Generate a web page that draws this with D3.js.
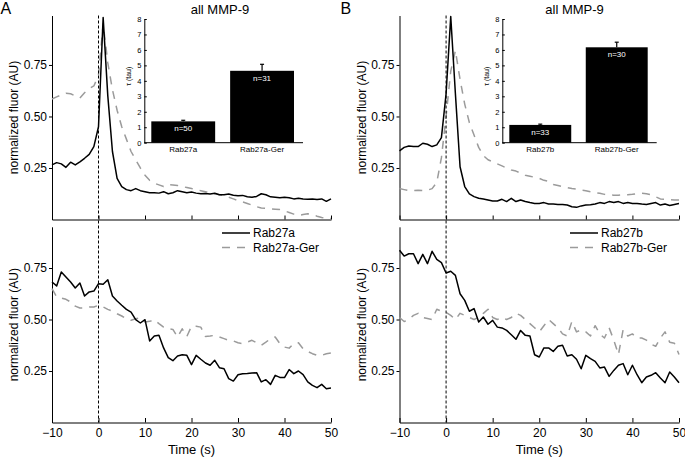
<!DOCTYPE html>
<html><head><meta charset="utf-8">
<script src="https://cdn.jsdelivr.net/npm/d3@7"></script>
<style>
body{margin:0;background:#fff}
svg{display:block}
text{font-family:"Liberation Sans",Arial,Helvetica,sans-serif}
</style>
</head><body>
<svg id="c" width="685" height="460"></svg>
<script>
// ---------- DATA ----------
const time = [-10,-9,-8,-7,-6,-5,-4,-3,-2,-1,0,1,2,3,4,5,6,7,8,9,10,11,12,13,14,15,16,17,18,19,20,
  21,22,23,24,25,26,27,28,29,30,31,32,33,34,35,36,37,38,39,40,41,42,43,44,45,46,47,48,49,50];
const xTicks = [-10,0,10,20,30,40,50];
const yTicks = [0.25,0.50,0.75];
const insetTicks = [0,1,2,3,4,5,6,7,8];

// Panel A, top (all MMP-9)
const aTopRab27a = [0.265,0.276,0.27,0.253,0.278,0.265,0.28,0.297,0.316,0.354,
  0.45,0.98,0.6,0.33,0.2,0.16,0.145,0.14,0.15,0.14,
  0.135,0.13,0.13,0.128,0.135,0.125,0.13,0.14,0.135,0.13,
  0.133,0.128,0.125,0.126,0.124,0.127,0.12,0.12,0.124,0.118,
  0.115,0.117,0.11,0.108,0.112,0.125,0.12,0.11,0.108,0.105,
  0.108,0.106,0.1,0.103,0.1,0.098,0.1,0.097,0.1,0.088,0.1];
const aTopRab27aGer = [0.585,0.595,0.605,0.613,0.61,0.6,0.59,0.615,0.635,0.648,
  0.7,0.95,0.76,0.63,0.53,0.45,0.39,0.33,0.29,0.25,
  0.215,0.19,0.176,0.168,0.16,0.17,0.168,0.165,0.16,0.155,
  0.15,0.145,0.14,0.135,0.13,0.125,0.12,0.115,0.108,0.1,
  0.092,0.085,0.078,0.07,0.062,0.056,0.054,0.052,0.05,0.048,
  0.042,0.034,0.026,0.02,0.024,0.028,0.025,0.016,0.01,0.006,0.005];
// Panel A, bottom
const aBotRab27a = [0.682,0.663,0.731,0.706,0.682,0.653,0.677,0.614,0.634,0.638,
  0.674,0.671,0.693,0.614,0.59,0.569,0.549,0.536,0.499,0.483,
  0.499,0.396,0.42,0.423,0.362,0.315,0.3,0.323,0.329,0.326,
  0.281,0.326,0.307,0.289,0.278,0.302,0.266,0.261,0.213,0.201,
  0.232,0.237,0.238,0.24,0.242,0.197,0.208,0.185,0.229,0.219,
  0.218,0.257,0.237,0.25,0.232,0.197,0.18,0.169,0.185,0.164,0.167];
const aBotRab27aGer = [0.65,0.61,0.604,0.598,0.585,0.565,0.556,0.556,0.561,0.561,
  0.569,0.561,0.549,0.54,0.528,0.517,0.504,0.496,0.504,0.507,
  0.488,0.491,0.499,0.48,0.463,0.455,0.452,0.415,0.455,0.418,
  0.467,0.467,0.463,0.418,0.42,0.423,0.415,0.407,0.399,0.396,
  0.387,0.383,0.39,0.399,0.387,0.375,0.39,0.407,0.415,0.383,
  0.366,0.361,0.383,0.387,0.358,0.345,0.334,0.326,0.326,0.334,0.337];
// Panel B, top
const bTopRab27b = [0.333,0.35,0.357,0.354,0.354,0.37,0.365,0.354,0.362,0.397,
  0.61,0.985,0.61,0.256,0.16,0.124,0.111,0.103,0.1,0.095,
  0.09,0.09,0.098,0.087,0.103,0.087,0.095,0.087,0.082,0.078,
  0.078,0.082,0.075,0.075,0.073,0.073,0.07,0.062,0.059,0.066,
  0.07,0.072,0.075,0.082,0.078,0.087,0.082,0.087,0.078,0.082,
  0.078,0.078,0.075,0.073,0.078,0.082,0.07,0.075,0.068,0.073,0.078];
const bTopRab27bGer = [0.15,0.145,0.14,0.14,0.142,0.14,0.142,0.15,0.18,0.3,
  0.5,0.72,0.82,0.68,0.56,0.47,0.41,0.35,0.31,0.29,
  0.28,0.27,0.26,0.25,0.24,0.235,0.225,0.215,0.21,0.205,
  0.2,0.19,0.185,0.17,0.165,0.16,0.155,0.15,0.148,0.143,
  0.14,0.135,0.13,0.127,0.122,0.12,0.118,0.118,0.12,0.12,
  0.122,0.125,0.127,0.125,0.12,0.11,0.1,0.098,0.097,0.095,0.095];
// Panel B, bottom
const bBotRab27b = [0.836,0.808,0.819,0.819,0.771,0.816,0.771,0.831,0.792,0.776,
  0.726,0.734,0.714,0.625,0.593,0.54,0.553,0.488,0.512,0.477,
  0.496,0.463,0.459,0.447,0.426,0.404,0.447,0.423,0.42,0.329,
  0.318,0.362,0.362,0.345,0.37,0.375,0.323,0.329,0.307,0.261,
  0.326,0.31,0.297,0.265,0.269,0.224,0.253,0.278,0.286,0.232,
  0.278,0.232,0.193,0.221,0.229,0.242,0.216,0.193,0.245,0.221,0.193];
const bBotRab27bGer = [0.51,0.49,0.5,0.52,0.53,0.51,0.505,0.5,0.55,0.54,
  0.535,0.52,0.5,0.53,0.52,0.51,0.5,0.51,0.53,0.55,
  0.51,0.5,0.51,0.5,0.51,0.53,0.52,0.5,0.48,0.46,
  0.44,0.47,0.5,0.48,0.46,0.43,0.42,0.49,0.44,0.45,
  0.44,0.42,0.47,0.43,0.41,0.46,0.4,0.33,0.45,0.42,
  0.43,0.41,0.41,0.4,0.38,0.37,0.41,0.44,0.39,0.385,0.33];

// Insets: tau
const insetCatsA = ["Rab27a","Rab27a-Ger"];
const tauA = [1.38, 4.65];
const tauErrA = [0.07, 0.42];
const nA = [50, 31];
const insetCatsB = ["Rab27b","Rab27b-Ger"];
const tauB = [1.15, 6.17];
const tauErrB = [0.05, 0.33];
const nB = [33, 30];

const legendA = ["Rab27a","Rab27a-Ger"];
const legendB = ["Rab27b","Rab27b-Ger"];

// ---------- DRAW ----------
const svg = d3.select("#c");
const BLACK = "#000", GRAY = "#9b9b9b";
const DASH = "8,7";

function lineSeries(g, x, y, vals, color, dash){
  const line = d3.line().x((d,i)=>x(time[i])).y(d=>y(d));
  g.append("path").datum(vals).attr("d", line)
    .attr("fill","none").attr("stroke",color).attr("stroke-width",1.5)
    .attr("stroke-linejoin","round")
    .attr("stroke-dasharray", dash || null);
}

function styleAxis(sel, fs){
  sel.selectAll("path.domain").attr("stroke","#000").attr("stroke-width",1);
  sel.selectAll(".tick line").attr("stroke","#000").attr("stroke-width",1);
  sel.selectAll(".tick text").attr("font-size",fs).attr("fill","#000")
    .attr("font-family",'"Liberation Sans",Arial,sans-serif');
}

function panel(o){
  const g = svg.append("g");
  const x = d3.scaleLinear().domain([-10,50]).range([o.left, o.right]);
  const yT = d3.scaleLinear().domain([0,0.99]).range([219.5, 15.5]);
  const yB = d3.scaleLinear().domain([0,0.95]).range([422.5, 226.8]);

  // panel letter
  g.append("text").attr("x", o.letterX).attr("y", 14).attr("font-size",16).text(o.letter);

  // top plot axes
  const yaT = g.append("g").attr("transform",`translate(${o.left},0)`)
    .call(d3.axisLeft(yT).tickValues(yTicks).tickFormat(d3.format(".2f")).tickSize(3).tickSizeOuter(0).tickPadding(2));
  styleAxis(yaT, 12);
  const xaT = g.append("g").attr("transform",`translate(0,${yT(0)})`)
    .call(d3.axisBottom(x).tickValues(xTicks).tickFormat("").tickSize(-4).tickSizeOuter(0));
  styleAxis(xaT, 12);

  // bottom plot axes
  const yaB = g.append("g").attr("transform",`translate(${o.left},0)`)
    .call(d3.axisLeft(yB).tickValues(yTicks).tickFormat(d3.format(".2f")).tickSize(3).tickSizeOuter(0).tickPadding(2));
  styleAxis(yaB, 12);
  const xaB = g.append("g").attr("transform",`translate(0,${yB(0)})`)
    .call(d3.axisBottom(x).tickValues(xTicks).tickFormat(d3.format("d")).tickSize(-4.5).tickSizeOuter(0).tickPadding(6));
  styleAxis(xaB, 12);

  // axis titles
  [yT, yB].forEach(y=>{
    const cy = (y.range()[0] + y.range()[1]) / 2;
    g.append("text").attr("transform",`translate(${o.left-34},${cy}) rotate(-90)`)
      .attr("text-anchor","middle").attr("font-size",12).text("normalized fluor (AU)");
  });
  g.append("text").attr("x",(o.left+o.right)/2).attr("y",454).attr("text-anchor","middle")
    .attr("font-size",13).text("Time (s)");

  // series
  lineSeries(g, x, yT, o.topGer, GRAY, DASH);
  lineSeries(g, x, yT, o.top, BLACK);
  lineSeries(g, x, yB, o.botGer, GRAY, DASH);
  lineSeries(g, x, yB, o.bot, BLACK);

  // vertical dashed line at t = 0
  g.append("line").attr("x1",x(0)).attr("x2",x(0)).attr("y1",yT.range()[1]).attr("y2",yB(0))
    .attr("stroke","#000").attr("stroke-width",1).attr("stroke-dasharray","3,2");

  // legend (bottom plot)
  const lg = g.append("g");
  const rows = [233, 247.5];
  o.legend.forEach((name,i)=>{
    lg.append("line").attr("x1",o.right-109).attr("x2",o.right-81).attr("y1",rows[i]).attr("y2",rows[i])
      .attr("stroke", i ? GRAY : BLACK).attr("stroke-width",1.5)
      .attr("stroke-dasharray", i ? DASH : null);
    lg.append("text").attr("x",o.right-78).attr("y",rows[i]+4.3).attr("font-size",12).text(name);
  });

  // inset bar chart
  inset(o.inset);
}

function inset(o){
  const g = svg.append("g");
  const yb = d3.scaleLinear().domain([0,8]).range([142.7, 19]);
  const xb = d3.scaleBand().domain(o.cats).range([o.l+7, o.r-9]).paddingInner(0.19).paddingOuter(0);

  g.append("text").attr("x",o.titleX).attr("y",13.5).attr("text-anchor","middle")
    .attr("font-size",13).text("all MMP-9");

  const ya = g.append("g").attr("transform",`translate(${o.l},0)`)
    .call(d3.axisLeft(yb).tickValues(insetTicks).tickFormat(d3.format("d")).tickSize(-2.5).tickSizeOuter(0).tickPadding(3));
  styleAxis(ya, 7.5);
  g.append("line").attr("x1",o.l).attr("x2",o.r).attr("y1",yb(0)).attr("y2",yb(0))
    .attr("stroke","#000").attr("stroke-width",1);

  g.append("text").attr("transform",`translate(${o.l-13.5},${yb(4.3)}) rotate(-90)`)
    .attr("text-anchor","middle").attr("font-size",7).text("τ (tau)");

  o.cats.forEach((c,i)=>{
    const bx = xb(c), bw = xb.bandwidth(), cx = bx + bw/2;
    g.append("line").attr("x1",cx).attr("x2",cx).attr("y1",yb(o.vals[i])).attr("y2",yb(o.vals[i]+o.errs[i]))
      .attr("stroke","#000").attr("stroke-width",1.2);
    g.append("line").attr("x1",cx-2).attr("x2",cx+2).attr("y1",yb(o.vals[i]+o.errs[i])).attr("y2",yb(o.vals[i]+o.errs[i]))
      .attr("stroke","#000").attr("stroke-width",1.2);
    g.append("rect").attr("x",bx).attr("y",yb(o.vals[i])).attr("width",bw).attr("height",yb(0)-yb(o.vals[i]))
      .attr("fill","#000");
    g.append("text").attr("x",cx).attr("y",yb(o.vals[i])+10).attr("text-anchor","middle")
      .attr("font-size",8).attr("fill","#fff").text("n=" + o.ns[i]);
    g.append("text").attr("x",cx).attr("y",151.5).attr("text-anchor","middle")
      .attr("font-size",8).text(c);
  });
}

panel({letter:"A", letterX:0.5, left:52, right:331,
  top:aTopRab27a, topGer:aTopRab27aGer, bot:aBotRab27a, botGer:aBotRab27aGer, legend:legendA,
  inset:{l:144.3, r:303, titleX:220, cats:insetCatsA, vals:tauA, errs:tauErrA, ns:nA}});
panel({letter:"B", letterX:340.5, left:399.5, right:679,
  top:bTopRab27b, topGer:bTopRab27bGer, bot:bBotRab27b, botGer:bBotRab27bGer, legend:legendB,
  inset:{l:502.3, r:656.7, titleX:574.6, cats:insetCatsB, vals:tauB, errs:tauErrB, ns:nB}});
</script>
</body></html>
